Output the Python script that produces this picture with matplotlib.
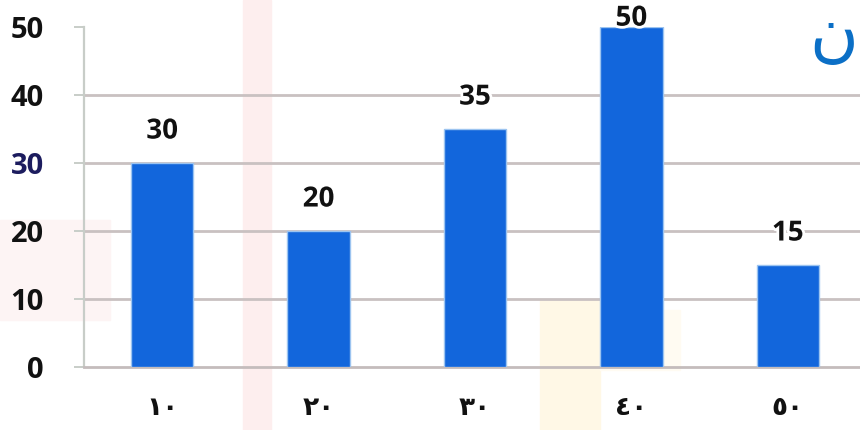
import matplotlib
matplotlib.use("Agg")
import matplotlib.pyplot as plt
import matplotlib.patheffects as pe
from matplotlib.patches import Rectangle

categories = ['١٠', '٢٠', '٣٠', '٤٠', '٥٠']
values = [30, 20, 35, 50, 15]
yticks = [0, 10, 20, 30, 40, 50]
value_labels = ['30', '20', '35', '50', '15']

W, H = 860, 430
fig = plt.figure(figsize=(W / 100, H / 100), dpi=100)
fig.patch.set_facecolor('white')

# faint watermark shapes in background
bg = fig.add_axes([0, 0, 1, 1], zorder=-5)
bg.set_xlim(0, W)
bg.set_ylim(H, 0)
bg.axis('off')
bg.add_patch(Rectangle((243, 0), 28, H, color='#fdeeee', zorder=0))
bg.add_patch(Rectangle((0, 220), 110, 100, color='#fdf4f4', zorder=0))
bg.add_patch(Rectangle((540, 300), 60, 130, color='#fff8e6', zorder=0))
bg.add_patch(Rectangle((600, 310), 80, 60, color='#fffbf2', zorder=0))

ax = fig.add_axes([84 / W, 63 / H, 782 / W, 340 / H])
ax.set_facecolor('none')

x = list(range(len(categories)))
ax.bar(x, values, width=0.4, color='#1266dc', edgecolor='#9cc4f0', linewidth=1.0, zorder=3)

ax.set_xlim(-0.5, len(categories) - 0.5)
ax.set_ylim(0, 50)
ax.set_yticks(yticks)
ax.set_yticklabels([str(t) for t in yticks])

for t in yticks[1:-1]:
    ax.axhline(t, color='#c9c1c1', linewidth=2.0, zorder=1)

for s in ['top', 'right']:
    ax.spines[s].set_visible(False)
ax.spines['left'].set_color('#c8cdc8')
ax.spines['left'].set_linewidth(1.6)
ax.spines['bottom'].set_color('#c4bcbc')
ax.spines['bottom'].set_linewidth(2.0)

ax.tick_params(axis='y', length=7, width=1.4, color='#c8cdc8', pad=22)
ax.tick_params(axis='x', length=0, pad=20)

for lab in ax.get_yticklabels():
    lab.set_fontfamily(['Open Sans', 'DejaVu Sans'])
    lab.set_fontsize(21)
    lab.set_fontweight('bold')
    lab.set_color('#111111')
    if lab.get_text() == '30':
        lab.set_color('#1c1c5e')

ax.set_xticks(x)
ax.set_xticklabels(categories, fontfamily=['DejaVu Sans'], fontsize=19, fontweight='bold',
                   color='#111111')

for i, (v, s) in enumerate(zip(values, value_labels)):
    ytext = min(v + 4.7, 51.3)
    ax.text(i, ytext, s, ha='center', va='center', fontsize=20, fontweight='bold',
            fontfamily=['Open Sans', 'DejaVu Sans'], color='#111111', zorder=5, clip_on=False,
            path_effects=[pe.withStroke(linewidth=4, foreground='white')])

fig.text(858 / W, 1 - 2 / H, 'ن', ha='right', va='top', fontsize=48, color='#0b6fc6',
         fontfamily=['DejaVu Sans'])

fig.savefig('out.png', dpi=100, facecolor='white')
